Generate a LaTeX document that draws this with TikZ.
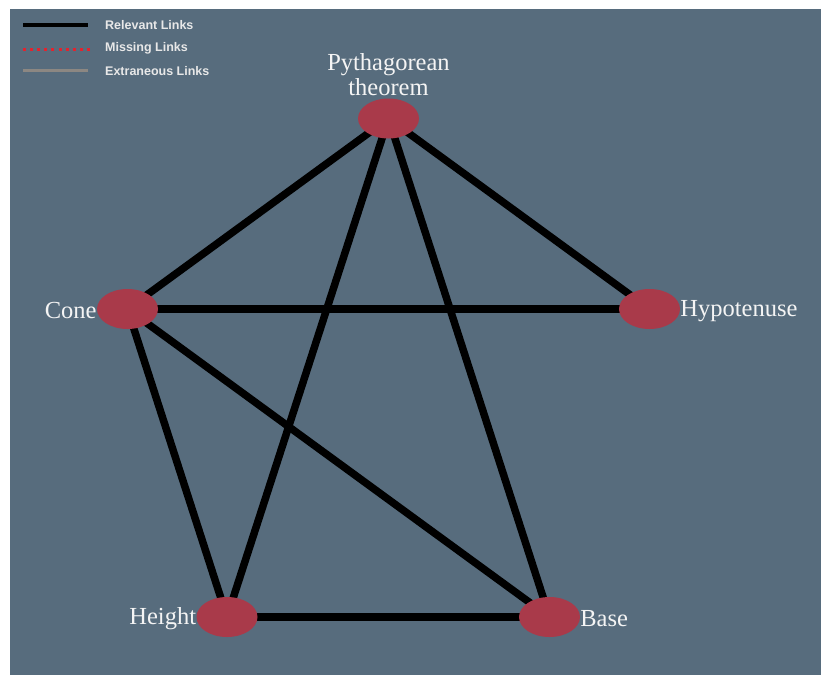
\documentclass[tikz,border=0pt]{standalone}
\usepackage{fontspec}
\setmainfont{Liberation Serif}
\setsansfont{Liberation Sans}
\usetikzlibrary{backgrounds,shapes.geometric}
\definecolor{slate}{HTML}{576C7D}
\definecolor{concept}{HTML}{A93A4A}
\definecolor{labelwhite}{HTML}{F4F4F4}
\definecolor{legendtext}{HTML}{E8E8E8}
\definecolor{missingred}{HTML}{E3232E}
\definecolor{extragray}{HTML}{8C8782}
\pgfdeclarelayer{canvas}
\pgfsetlayers{canvas,background,main}
\tikzset{
  concept/.style={ellipse, fill=concept, minimum width=61pt, minimum height=40pt, inner sep=0pt},
  conceptlabel/.style={text=labelwhite, font=\fontsize{24.5}{25}\selectfont, inner sep=0pt},
  link/.style={line width=7.5pt, draw=black},
  legendlabel/.style={text=legendtext, font=\sffamily\bfseries\fontsize{12.5}{14}\selectfont, anchor=west, inner sep=0pt},
}
\begin{document}
\begin{tikzpicture}[x=1pt, y=-1pt]
  % canvas with its white margin on the left and top
  \useasboundingbox (0,0) rectangle (822,675);
  \begin{pgfonlayer}{canvas}
    \fill[white] (0,0) rectangle (822,675);
    \fill[slate] (10,9) rectangle (821,675);
  \end{pgfonlayer}

  % legend
  \coordinate (relA) at (23,25);  \coordinate (relB) at (88,25);
  \coordinate (misA) at (23,49);  \coordinate (misB) at (90,49);
  \coordinate (extA) at (23,70);  \coordinate (extB) at (88,70);
  \draw[line width=3.5pt, black] (relA) -- (relB);
  \draw[line width=3pt, missingred, dash pattern=on 3pt off 4.1pt] (misA) -- (misB);
  \draw[line width=3pt, extragray] (extA) -- (extB);
  \node[legendlabel] (relT) at (105,25) {Relevant Links};
  \node[legendlabel] (misT) at (105,48) {Missing Links};
  \node[legendlabel] (extT) at (105,71) {Extraneous Links};

  % concepts
  \node[concept] (pyth) at (388.5,118.5) {};
  \node[concept] (cone) at (127.5,309) {};
  \node[concept] (hyp)  at (649.5,309) {};
  \node[concept] (hgt)  at (227,617) {};
  \node[concept] (base) at (549.5,617) {};

  % links between concepts
  \begin{pgfonlayer}{background}
    \draw[link] (pyth.center) -- (cone.center);
    \draw[link] (pyth.center) -- (hyp.center);
    \draw[link] (pyth.center) -- (hgt.center);
    \draw[link] (pyth.center) -- (base.center);
    \draw[link] (cone.center) -- (hyp.center);
    \draw[link] (cone.center) -- (hgt.center);
    \draw[link] (cone.center) -- (base.center);
    \draw[link] (hgt.center) -- (base.center);
  \end{pgfonlayer}

  % concept names
  \node[conceptlabel, align=center, anchor=south] (pythT) at (388.5,96) {Pythagorean\\theorem};
  \node[conceptlabel, anchor=east, yshift=-2pt] (coneT) at (cone.west) {Cone};
  \node[conceptlabel, anchor=west, yshift=-2pt] (hypT) at (hyp.east) {Hypotenuse};
  \node[conceptlabel, anchor=east, yshift=-2pt] (hgtT) at (hgt.west) {Height};
  \node[conceptlabel, anchor=west, yshift=-2pt] (baseT) at (base.east) {Base};
\end{tikzpicture}
\end{document}
